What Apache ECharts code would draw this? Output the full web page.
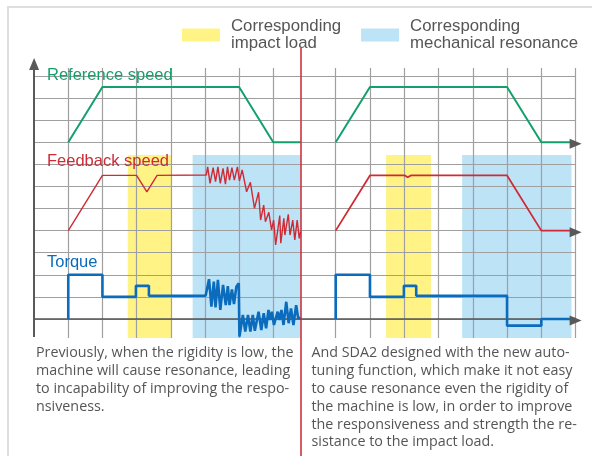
<!DOCTYPE html>
<html>
<head>
<meta charset="utf-8">
<script src="https://cdn.jsdelivr.net/npm/echarts@6/dist/echarts.min.js"></script>
<style>
html, body { margin: 0; padding: 0; background: #fff; }
#main { width: 592px; height: 456px; }
</style>
</head>
<body>
<div id="main"></div>
<script>
// x: one unit per grid column (each half starts at 0), y: one unit per grid row, 0 = torque axis
var refLeft = [[1, 8], [2, 10.5], [6, 10.5], [7, 8], [7.8, 8]];
var refRight = [[1, 8], [2, 10.5], [6, 10.5], [7, 8], [8, 8]];

var fbLeft = [[1, 4], [2, 6.5], [3, 6.5], [3.3, 5.75], [3.6, 6.5], [5.04, 6.52],
  [5.08, 6.89], [5.15, 6.14], [5.24, 6.85], [5.31, 6.22], [5.38, 6.89], [5.45, 6.14],
  [5.53, 6.82], [5.6, 6.1], [5.66, 6.89], [5.72, 6.29], [5.79, 6.85], [5.86, 6.29],
  [5.95, 6.89], [6.01, 6.25], [6.09, 6.75], [6.22, 5.76], [6.33, 6.19], [6.45, 5.01],
  [6.57, 5.74], [6.63, 4.48], [6.72, 5.16], [6.77, 4.4], [6.87, 4.83], [6.95, 4.03],
  [7.01, 4.48], [7.07, 3.35], [7.19, 4.68], [7.22, 3.43], [7.31, 4.56], [7.34, 3.8],
  [7.44, 4.74], [7.49, 3.8], [7.57, 4.48], [7.63, 3.58], [7.7, 4.48], [7.76, 3.65], [7.8, 3.95]];
var fbRight = [[1, 4], [2, 6.5], [3.02, 6.5], [3.1, 6.42], [3.2, 6.5], [6, 6.5], [7, 4], [8, 4]];

var tqLeft = [[1, 0], [1, 2], [2, 2], [2, 1], [2.98, 1], [2.98, 1.5], [3.36, 1.5], [3.36, 1.05],
  [5.02, 1.05], [5.12, 1.8], [5.19, 0.56], [5.26, 1.69], [5.31, 0.53], [5.38, 1.77],
  [5.45, 0.41], [5.53, 1.54], [5.61, 0.63], [5.67, 1.49], [5.72, 0.63], [5.79, 1.34],
  [5.85, 0.68], [5.92, 1.46], [5.99, 1.62], [6.01, -0.8], [6.11, 0.18], [6.18, -0.57],
  [6.26, 0.18], [6.33, -0.57], [6.4, 0.18], [6.46, -0.53], [6.57, 0.33], [6.65, -0.5],
  [6.72, 0.26], [6.79, -0.42], [6.86, 0.41], [6.91, -0.05], [6.96, 0.33], [7.02, -0.27],
  [7.13, 0.33], [7.18, -0.05], [7.24, 0.41], [7.3, -0.27], [7.38, 0.78], [7.45, -0.19],
  [7.52, 0.48], [7.59, -0.27], [7.67, 0.63], [7.73, 0.03], [7.8, 0.05]];
var tqRight = [[1, 0], [1, 2], [2, 2], [2, 1], [2.99, 1], [2.99, 1.5], [3.35, 1.5], [3.35, 1.05],
  [6, 1.05], [6, -0.3], [7, -0.3], [7, 0], [8, 0]];

var impactLeft = [2.74, 4.03];
var resonLeft = [4.64, 7.8];
var impactRight = [2.47, 3.78];
var resonRight = [4.69, 7.88];
var bandY = [-0.86, 7.42];

var colsLeft = [1, 2, 3, 4, 5, 6, 7];
var colsRight = [1, 2, 3, 4, 5, 6, 7, 8];
var colY = [-0.86, 11.36];
var axisY = [-0.82, 11.54];
var arrowRows = [8, 4, 0];

var impactName = 'Corresponding\nimpact load';
var resonName = 'Corresponding\nmechanical resonance';

var GREEN = '#13a06c';
var RED = '#cf2b36';
var BLUE = '#0b6cbd';
var GRAY = '#9f9f9f';
var DARK = '#595959';

var chart = echarts.init(document.getElementById('main'));

function band(name, color, range, idx) {
  return {
    name: name, type: 'line', xAxisIndex: idx, yAxisIndex: idx, data: [],
    itemStyle: { color: color },
    markArea: {
      silent: true, z: 1,
      itemStyle: { color: color, opacity: 1 },
      data: [[{ coord: [range[0], bandY[0]] }, { coord: [range[1], bandY[1]] }]]
    }
  };
}

function gridLines(cols, idx) {
  return {
    type: 'line', xAxisIndex: idx, yAxisIndex: idx, data: [], silent: true,
    markLine: {
      silent: true, symbol: 'none', z: 3,
      label: { show: false },
      lineStyle: { color: GRAY, width: 1.2, type: 'solid' },
      data: cols.map(function (t) {
        return [{ coord: [t, colY[0]] }, { coord: [t, colY[1]] }];
      })
    }
  };
}

function curve(name, data, color, width, idx) {
  return {
    name: name, type: 'line', xAxisIndex: idx, yAxisIndex: idx, data: data,
    symbol: 'none', z: 10, silent: true,
    lineStyle: { color: color, width: width }
  };
}

function yAxis(idx) {
  return {
    gridIndex: idx, type: 'value', min: -1, max: 12, interval: 1, z: 2,
    axisLine: { show: false }, axisTick: { show: false }, axisLabel: { show: false },
    splitLine: { show: true, showMinLine: false, showMaxLine: false, lineStyle: { color: GRAY, width: 1.2 } }
  };
}

function xAxis(idx, max) {
  return {
    gridIndex: idx, type: 'value', min: 0, max: max, z: 4,
    axisLine: { show: true, onZero: true, lineStyle: { color: '#555', width: 1.6 } },
    axisTick: { show: false }, axisLabel: { show: false }, splitLine: { show: false }
  };
}

var option = {
  animation: false,
  grid: [
    { left: 34.1, right: 291.4, top: 53.92, bottom: 114.91 },
    { left: 301.4, right: 16.4, top: 53.92, bottom: 114.91 }
  ],
  xAxis: [xAxis(0, 7.8), xAxis(1, 8)],
  yAxis: [yAxis(0), yAxis(1)],
  legend: {
    data: [impactName, resonName],
    left: 182, top: 18, padding: 0,
    icon: 'rect', itemWidth: 38, itemHeight: 13, itemGap: 20,
    selectedMode: false,
    textStyle: { fontFamily: 'Liberation Sans', fontSize: 16.8, lineHeight: 17, color: '#555', padding: [0, 0, 0, 6] }
  },
  series: [
    band(impactName, '#fff385', impactLeft, 0),
    band(resonName, '#bde3f6', resonLeft, 0),
    band(impactName, '#fff385', impactRight, 1),
    band(resonName, '#bde3f6', resonRight, 1),
    gridLines(colsLeft, 0),
    gridLines(colsRight, 1),
    {
      // vertical axis with its arrow head
      type: 'line', xAxisIndex: 0, yAxisIndex: 0, data: [], silent: true, clip: false,
      markLine: {
        silent: true, symbol: 'none', z: 6,
        label: { show: false },
        lineStyle: { color: DARK, width: 2, type: 'solid' },
        data: [[{ coord: [0, axisY[0]] }, { coord: [0, axisY[1]] }]]
      },
      markPoint: {
        silent: true, z: 6, symbol: 'triangle', symbolSize: [10, 12],
        itemStyle: { color: DARK }, label: { show: false },
        data: [{ coord: [0, axisY[1]] }]
      }
    },
    {
      // arrow heads at the right end of the three traces
      type: 'line', xAxisIndex: 1, yAxisIndex: 1, data: [], silent: true, clip: false,
      markPoint: {
        silent: true, z: 11, symbol: 'triangle', symbolSize: [10, 12], symbolRotate: -90,
        symbolOffset: [0, 1.5],
        itemStyle: { color: DARK }, label: { show: false },
        data: arrowRows.map(function (r) { return { coord: [8, r] }; })
      }
    },
    curve('Reference speed', refLeft, GREEN, 2, 0),
    curve('Reference speed', refRight, GREEN, 2, 1),
    curve('Feedback speed', fbLeft, RED, 1.4, 0),
    curve('Feedback speed', fbRight, RED, 1.8, 1),
    curve('Torque', tqLeft, BLUE, 2.6, 0),
    curve('Torque', tqRight, BLUE, 2.6, 1)
  ],
  graphic: [
    { type: 'rect', shape: { x: 8, y: 7, width: 600, height: 470 }, style: { fill: 'none', stroke: '#dedede', lineWidth: 2 }, z: 0 },
    { type: 'line', shape: { x1: 301, y1: 48, x2: 301, y2: 456 }, style: { stroke: '#c8252f', lineWidth: 1.5 }, z: 100 },
    { type: 'text', x: 47, y: 67, style: { text: 'Reference speed', font: '16.5px "Liberation Sans"', fill: GREEN }, z: 100 },
    { type: 'text', x: 47, y: 152.5, style: { text: 'Feedback speed', font: '16.5px "Liberation Sans"', fill: RED }, z: 100 },
    { type: 'text', x: 47, y: 253.5, style: { text: 'Torque', font: '16.5px "Liberation Sans"', fill: BLUE }, z: 100 },
    {
      type: 'text', x: 36, y: 344.5, z: 100,
      style: {
        text: 'Previously, when the rigidity is low, the\nmachine will cause resonance, leading\nto incapability of improving the respo-\nnsiveness.',
        font: '14.3px "Open Sans"', lineHeight: 17.8, fill: '#555'
      }
    },
    {
      type: 'text', x: 311.5, y: 344.5, z: 100,
      style: {
        text: 'And SDA2 designed with the new auto-\ntuning function, which make it not easy\nto cause resonance even the rigidity of\nthe machine is low, in order to improve\nthe responsiveness and strength the re-\nsistance to the impact load.',
        font: '14.3px "Open Sans"', lineHeight: 17.8, fill: '#555'
      }
    }
  ]
};

chart.setOption(option);
</script>
</body>
</html>
